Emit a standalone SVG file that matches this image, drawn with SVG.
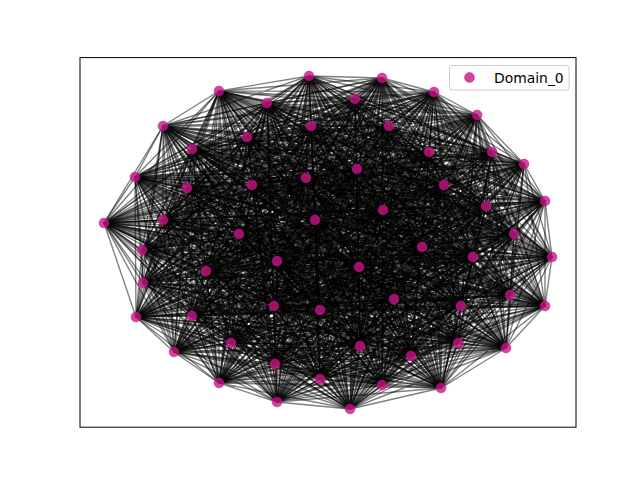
<svg xmlns="http://www.w3.org/2000/svg" width="640" height="480" viewBox="0 0 640 480">
<style>
.e path{fill:none;stroke:#000;stroke-opacity:.5;stroke-width:1.39;stroke-linejoin:round}
.n circle{fill:#c71585;fill-opacity:.8;stroke:#c71585;stroke-opacity:.8;stroke-width:.5}
.lt{font-family:"DejaVu Sans",sans-serif;font-size:13.9px;fill:#000}
</style>
<rect width="640" height="480" fill="#fff"/>
<g id="edges" class="e">
<path d="M309 76 382 78 350 409 219 91 277 402 267 103 441 388 355 99 382 385 434 92 320 379 477 115 219 383 163 126 275 364 247 137 506 348 311 126 458 343 389 126 411 356 192 149 360 346 429 152 231 343 492 152 174 352 524 164 192 316 135 177 545 306 187 188 461 306 252 185 394 299 306 178 320 310 357 169 274 306 444 185 136 317 545 201 510 295 104 223 143 283 163 220 473 257 315 220 359 267 383 210 277 261 486 206 206 271 514 234 552 257 142 250 422 247 239 234"/>
<path d="M382 78 219 91 309 76 267 103 350 409 355 99 277 402 434 92 441 388 477 115 382 385 163 126 320 379 247 137 219 383 311 126 275 364 389 126 506 348 192 149 458 343 429 152 411 356 492 152 360 346 524 164 231 343 135 177 174 352 187 188 192 316 252 185 545 306 306 178 461 306 357 169 394 299 444 185 320 310 545 201 274 306 104 223 136 317 163 220 510 295 315 220 143 283 383 210 473 257 486 206 359 267 514 234 277 261 142 250 206 271 239 234 552 257 422 247"/>
<path d="M219 91 267 103 382 78 355 99 309 76 434 92 350 409 477 115 277 402 163 126 441 388 247 137 382 385 311 126 320 379 389 126 219 383 192 149 275 364 429 152 506 348 492 152 458 343 524 164 411 356 135 177 360 346 187 188 231 343 252 185 174 352 306 178 192 316 357 169 545 306 444 185 461 306 545 201 394 299 104 223 320 310 163 220 274 306 315 220 136 317 383 210 510 295 486 206 143 283 514 234 473 257 142 250 359 267 239 234 277 261 422 247 206 271 552 257"/>
<path d="M267 103 355 99 219 91 434 92 382 78 477 115 309 76 163 126 350 409 247 137 277 402 311 126 441 388 389 126 382 385 192 149 320 379 429 152 219 383 492 152 275 364 524 164 506 348 135 177 458 343 187 188 411 356 252 185 360 346 306 178 231 343 357 169 174 352 444 185 192 316 545 201 545 306 104 223 461 306 163 220 394 299 315 220 320 310 383 210 274 306 486 206 136 317 514 234 510 295 142 250 143 283 239 234 473 257 422 247 359 267 552 257 277 261 206 271"/>
<path d="M355 99 434 92 267 103 477 115 219 91 163 126 382 78 247 137 309 76 311 126 350 409 389 126 277 402 192 149 441 388 429 152 382 385 492 152 320 379 524 164 219 383 135 177 275 364 187 188 506 348 252 185 458 343 306 178 411 356 357 169 360 346 444 185 231 343 545 201 174 352 104 223 192 316 163 220 545 306 315 220 461 306 383 210 394 299 486 206 320 310 514 234 274 306 142 250 136 317 239 234 510 295 422 247 143 283 552 257 473 257 206 271 359 267 277 261"/>
<path d="M434 92 477 115 355 99 163 126 267 103 247 137 219 91 311 126 382 78 389 126 309 76 192 149 350 409 429 152 277 402 492 152 441 388 524 164 382 385 135 177 320 379 187 188 219 383 252 185 275 364 306 178 506 348 357 169 458 343 444 185 411 356 545 201 360 346 104 223 231 343 163 220 174 352 315 220 192 316 383 210 545 306 486 206 461 306 514 234 394 299 142 250 320 310 239 234 274 306 422 247 136 317 552 257 510 295 206 271 143 283 277 261 473 257 359 267"/>
<path d="M477 115 163 126 434 92 247 137 355 99 311 126 267 103 389 126 219 91 192 149 382 78 429 152 309 76 492 152 350 409 524 164 277 402 135 177 441 388 187 188 382 385 252 185 320 379 306 178 219 383 357 169 275 364 444 185 506 348 545 201 458 343 104 223 411 356 163 220 360 346 315 220 231 343 383 210 174 352 486 206 192 316 514 234 545 306 142 250 461 306 239 234 394 299 422 247 320 310 552 257 274 306 206 271 136 317 277 261 510 295 359 267 143 283 473 257"/>
<path d="M163 126 247 137 477 115 311 126 434 92 389 126 355 99 192 149 267 103 429 152 219 91 492 152 382 78 524 164 309 76 135 177 350 409 187 188 277 402 252 185 441 388 306 178 382 385 357 169 320 379 444 185 219 383 545 201 275 364 104 223 506 348 163 220 458 343 315 220 411 356 383 210 360 346 486 206 231 343 514 234 174 352 142 250 192 316 239 234 545 306 422 247 461 306 552 257 394 299 206 271 320 310 277 261 274 306 359 267 136 317 473 257 510 295 143 283"/>
<path d="M247 137 311 126 163 126 389 126 477 115 192 149 434 92 429 152 355 99 492 152 267 103 524 164 219 91 135 177 382 78 187 188 309 76 252 185 350 409 306 178 277 402 357 169 441 388 444 185 382 385 545 201 320 379 104 223 219 383 163 220 275 364 315 220 506 348 383 210 458 343 486 206 411 356 514 234 360 346 142 250 231 343 239 234 174 352 422 247 192 316 552 257 545 306 206 271 461 306 277 261 394 299 359 267 320 310 473 257 274 306 143 283 136 317 510 295"/>
<path d="M311 126 389 126 247 137 192 149 163 126 429 152 477 115 492 152 434 92 524 164 355 99 135 177 267 103 187 188 219 91 252 185 382 78 306 178 309 76 357 169 350 409 444 185 277 402 545 201 441 388 104 223 382 385 163 220 320 379 315 220 219 383 383 210 275 364 486 206 506 348 514 234 458 343 142 250 411 356 239 234 360 346 422 247 231 343 552 257 174 352 206 271 192 316 277 261 545 306 359 267 461 306 473 257 394 299 143 283 320 310 510 295 274 306 136 317"/>
<path d="M389 126 192 149 311 126 429 152 247 137 492 152 163 126 524 164 477 115 135 177 434 92 187 188 355 99 252 185 267 103 306 178 219 91 357 169 382 78 444 185 309 76 545 201 350 409 104 223 277 402 163 220 441 388 315 220 382 385 383 210 320 379 486 206 219 383 514 234 275 364 142 250 506 348 239 234 458 343 422 247 411 356 552 257 360 346 206 271 231 343 277 261 174 352 359 267 192 316 473 257 545 306 143 283 461 306 510 295 394 299 136 317 320 310 274 306"/>
<path d="M192 149 429 152 389 126 492 152 311 126 524 164 247 137 135 177 163 126 187 188 477 115 252 185 434 92 306 178 355 99 357 169 267 103 444 185 219 91 545 201 382 78 104 223 309 76 163 220 350 409 315 220 277 402 383 210 441 388 486 206 382 385 514 234 320 379 142 250 219 383 239 234 275 364 422 247 506 348 552 257 458 343 206 271 411 356 277 261 360 346 359 267 231 343 473 257 174 352 143 283 192 316 510 295 545 306 136 317 461 306 274 306 394 299 320 310"/>
<path d="M429 152 492 152 192 149 524 164 389 126 135 177 311 126 187 188 247 137 252 185 163 126 306 178 477 115 357 169 434 92 444 185 355 99 545 201 267 103 104 223 219 91 163 220 382 78 315 220 309 76 383 210 350 409 486 206 277 402 514 234 441 388 142 250 382 385 239 234 320 379 422 247 219 383 552 257 275 364 206 271 506 348 277 261 458 343 359 267 411 356 473 257 360 346 143 283 231 343 510 295 174 352 136 317 192 316 274 306 545 306 320 310 461 306 394 299"/>
<path d="M492 152 524 164 429 152 135 177 192 149 187 188 389 126 252 185 311 126 306 178 247 137 357 169 163 126 444 185 477 115 545 201 434 92 104 223 355 99 163 220 267 103 315 220 219 91 383 210 382 78 486 206 309 76 514 234 350 409 142 250 277 402 239 234 441 388 422 247 382 385 552 257 320 379 206 271 219 383 277 261 275 364 359 267 506 348 473 257 458 343 143 283 411 356 510 295 360 346 136 317 231 343 274 306 174 352 320 310 192 316 394 299 545 306 461 306"/>
<path d="M524 164 135 177 492 152 187 188 429 152 252 185 192 149 306 178 389 126 357 169 311 126 444 185 247 137 545 201 163 126 104 223 477 115 163 220 434 92 315 220 355 99 383 210 267 103 486 206 219 91 514 234 382 78 142 250 309 76 239 234 350 409 422 247 277 402 552 257 441 388 206 271 382 385 277 261 320 379 359 267 219 383 473 257 275 364 143 283 506 348 510 295 458 343 136 317 411 356 274 306 360 346 320 310 231 343 394 299 174 352 461 306 192 316 545 306"/>
<path d="M135 177 187 188 524 164 252 185 492 152 306 178 429 152 357 169 192 149 444 185 389 126 545 201 311 126 104 223 247 137 163 220 163 126 315 220 477 115 383 210 434 92 486 206 355 99 514 234 267 103 142 250 219 91 239 234 382 78 422 247 309 76 552 257 350 409 206 271 277 402 277 261 441 388 359 267 382 385 473 257 320 379 143 283 219 383 510 295 275 364 136 317 506 348 274 306 458 343 320 310 411 356 394 299 360 346 461 306 231 343 545 306 174 352 192 316"/>
<path d="M187 188 252 185 135 177 306 178 524 164 357 169 492 152 444 185 429 152 545 201 192 149 104 223 389 126 163 220 311 126 315 220 247 137 383 210 163 126 486 206 477 115 514 234 434 92 142 250 355 99 239 234 267 103 422 247 219 91 552 257 382 78 206 271 309 76 277 261 350 409 359 267 277 402 473 257 441 388 143 283 382 385 510 295 320 379 136 317 219 383 274 306 275 364 320 310 506 348 394 299 458 343 461 306 411 356 545 306 360 346 192 316 231 343 174 352"/>
<path d="M252 185 306 178 187 188 357 169 135 177 444 185 524 164 545 201 492 152 104 223 429 152 163 220 192 149 315 220 389 126 383 210 311 126 486 206 247 137 514 234 163 126 142 250 477 115 239 234 434 92 422 247 355 99 552 257 267 103 206 271 219 91 277 261 382 78 359 267 309 76 473 257 350 409 143 283 277 402 510 295 441 388 136 317 382 385 274 306 320 379 320 310 219 383 394 299 275 364 461 306 506 348 545 306 458 343 192 316 411 356 174 352 360 346 231 343"/>
<path d="M306 178 357 169 252 185 444 185 187 188 545 201 135 177 104 223 524 164 163 220 492 152 315 220 429 152 383 210 192 149 486 206 389 126 514 234 311 126 142 250 247 137 239 234 163 126 422 247 477 115 552 257 434 92 206 271 355 99 277 261 267 103 359 267 219 91 473 257 382 78 143 283 309 76 510 295 350 409 136 317 277 402 274 306 441 388 320 310 382 385 394 299 320 379 461 306 219 383 545 306 275 364 192 316 506 348 174 352 458 343 231 343 411 356 360 346"/>
<path d="M357 169 444 185 306 178 545 201 252 185 104 223 187 188 163 220 135 177 315 220 524 164 383 210 492 152 486 206 429 152 514 234 192 149 142 250 389 126 239 234 311 126 422 247 247 137 552 257 163 126 206 271 477 115 277 261 434 92 359 267 355 99 473 257 267 103 143 283 219 91 510 295 382 78 136 317 309 76 274 306 350 409 320 310 277 402 394 299 441 388 461 306 382 385 545 306 320 379 192 316 219 383 174 352 275 364 231 343 506 348 360 346 458 343 411 356"/>
<path d="M444 185 545 201 357 169 104 223 306 178 163 220 252 185 315 220 187 188 383 210 135 177 486 206 524 164 514 234 492 152 142 250 429 152 239 234 192 149 422 247 389 126 552 257 311 126 206 271 247 137 277 261 163 126 359 267 477 115 473 257 434 92 143 283 355 99 510 295 267 103 136 317 219 91 274 306 382 78 320 310 309 76 394 299 350 409 461 306 277 402 545 306 441 388 192 316 382 385 174 352 320 379 231 343 219 383 360 346 275 364 411 356 506 348 458 343"/>
<path d="M545 201 104 223 444 185 163 220 357 169 315 220 306 178 383 210 252 185 486 206 187 188 514 234 135 177 142 250 524 164 239 234 492 152 422 247 429 152 552 257 192 149 206 271 389 126 277 261 311 126 359 267 247 137 473 257 163 126 143 283 477 115 510 295 434 92 136 317 355 99 274 306 267 103 320 310 219 91 394 299 382 78 461 306 309 76 545 306 350 409 192 316 277 402 174 352 441 388 231 343 382 385 360 346 320 379 411 356 219 383 458 343 275 364 506 348"/>
<path d="M104 223 163 220 545 201 315 220 444 185 383 210 357 169 486 206 306 178 514 234 252 185 142 250 187 188 239 234 135 177 422 247 524 164 552 257 492 152 206 271 429 152 277 261 192 149 359 267 389 126 473 257 311 126 143 283 247 137 510 295 163 126 136 317 477 115 274 306 434 92 320 310 355 99 394 299 267 103 461 306 219 91 545 306 382 78 192 316 309 76 174 352 350 409 231 343 277 402 360 346 441 388 411 356 382 385 458 343 320 379 506 348 219 383 275 364"/>
<path d="M163 220 315 220 104 223 383 210 545 201 486 206 444 185 514 234 357 169 142 250 306 178 239 234 252 185 422 247 187 188 552 257 135 177 206 271 524 164 277 261 492 152 359 267 429 152 473 257 192 149 143 283 389 126 510 295 311 126 136 317 247 137 274 306 163 126 320 310 477 115 394 299 434 92 461 306 355 99 545 306 267 103 192 316 219 91 174 352 382 78 231 343 309 76 360 346 350 409 411 356 277 402 458 343 441 388 506 348 382 385 275 364 320 379 219 383"/>
<path d="M315 220 383 210 163 220 486 206 104 223 514 234 545 201 142 250 444 185 239 234 357 169 422 247 306 178 552 257 252 185 206 271 187 188 277 261 135 177 359 267 524 164 473 257 492 152 143 283 429 152 510 295 192 149 136 317 389 126 274 306 311 126 320 310 247 137 394 299 163 126 461 306 477 115 545 306 434 92 192 316 355 99 174 352 267 103 231 343 219 91 360 346 382 78 411 356 309 76 458 343 350 409 506 348 277 402 275 364 441 388 219 383 382 385 320 379"/>
<path d="M383 210 486 206 315 220 514 234 163 220 142 250 104 223 239 234 545 201 422 247 444 185 552 257 357 169 206 271 306 178 277 261 252 185 359 267 187 188 473 257 135 177 143 283 524 164 510 295 492 152 136 317 429 152 274 306 192 149 320 310 389 126 394 299 311 126 461 306 247 137 545 306 163 126 192 316 477 115 174 352 434 92 231 343 355 99 360 346 267 103 411 356 219 91 458 343 382 78 506 348 309 76 275 364 350 409 219 383 277 402 320 379 441 388 382 385"/>
<path d="M486 206 514 234 383 210 142 250 315 220 239 234 163 220 422 247 104 223 552 257 545 201 206 271 444 185 277 261 357 169 359 267 306 178 473 257 252 185 143 283 187 188 510 295 135 177 136 317 524 164 274 306 492 152 320 310 429 152 394 299 192 149 461 306 389 126 545 306 311 126 192 316 247 137 174 352 163 126 231 343 477 115 360 346 434 92 411 356 355 99 458 343 267 103 506 348 219 91 275 364 382 78 219 383 309 76 320 379 350 409 382 385 277 402 441 388"/>
<path d="M514 234 142 250 486 206 239 234 383 210 422 247 315 220 552 257 163 220 206 271 104 223 277 261 545 201 359 267 444 185 473 257 357 169 143 283 306 178 510 295 252 185 136 317 187 188 274 306 135 177 320 310 524 164 394 299 492 152 461 306 429 152 545 306 192 149 192 316 389 126 174 352 311 126 231 343 247 137 360 346 163 126 411 356 477 115 458 343 434 92 506 348 355 99 275 364 267 103 219 383 219 91 320 379 382 78 382 385 309 76 441 388 350 409 277 402"/>
<path d="M142 250 239 234 514 234 422 247 486 206 552 257 383 210 206 271 315 220 277 261 163 220 359 267 104 223 473 257 545 201 143 283 444 185 510 295 357 169 136 317 306 178 274 306 252 185 320 310 187 188 394 299 135 177 461 306 524 164 545 306 492 152 192 316 429 152 174 352 192 149 231 343 389 126 360 346 311 126 411 356 247 137 458 343 163 126 506 348 477 115 275 364 434 92 219 383 355 99 320 379 267 103 382 385 219 91 441 388 382 78 277 402 309 76 350 409"/>
</g>
<g id="nodes" class="n">
<g id="n1"><circle cx="309" cy="76" r="5"/></g>
<g id="n2"><circle cx="382" cy="78" r="5"/></g>
<g id="n3"><circle cx="219" cy="91" r="5"/></g>
<g id="n4"><circle cx="267" cy="103" r="5"/></g>
<g id="n5"><circle cx="355" cy="99" r="5"/></g>
<g id="n6"><circle cx="434" cy="92" r="5"/></g>
<g id="n7"><circle cx="477" cy="115" r="5"/></g>
<g id="n8"><circle cx="163" cy="126" r="5"/></g>
<g id="n9"><circle cx="247" cy="137" r="5"/></g>
<g id="n10"><circle cx="311" cy="126" r="5"/></g>
<g id="n11"><circle cx="389" cy="126" r="5"/></g>
<g id="n12"><circle cx="192" cy="149" r="5"/></g>
<g id="n13"><circle cx="429" cy="152" r="5"/></g>
<g id="n14"><circle cx="492" cy="152" r="5"/></g>
<g id="n15"><circle cx="524" cy="164" r="5"/></g>
<g id="n16"><circle cx="135" cy="177" r="5"/></g>
<g id="n17"><circle cx="187" cy="188" r="5"/></g>
<g id="n18"><circle cx="252" cy="185" r="5"/></g>
<g id="n19"><circle cx="306" cy="178" r="5"/></g>
<g id="n20"><circle cx="357" cy="169" r="5"/></g>
<g id="n21"><circle cx="444" cy="185" r="5"/></g>
<g id="n22"><circle cx="545" cy="201" r="5"/></g>
<g id="n23"><circle cx="104" cy="223" r="5"/></g>
<g id="n24"><circle cx="163" cy="220" r="5"/></g>
<g id="n25"><circle cx="315" cy="220" r="5"/></g>
<g id="n26"><circle cx="383" cy="210" r="5"/></g>
<g id="n27"><circle cx="486" cy="206" r="5"/></g>
<g id="n28"><circle cx="514" cy="234" r="5"/></g>
<g id="n29"><circle cx="142" cy="250" r="5"/></g>
<g id="n30"><circle cx="239" cy="234" r="5"/></g>
<g id="n31"><circle cx="422" cy="247" r="5"/></g>
<g id="n32"><circle cx="552" cy="257" r="5"/></g>
<g id="n33"><circle cx="206" cy="271" r="5"/></g>
<g id="n34"><circle cx="277" cy="261" r="5"/></g>
<g id="n35"><circle cx="359" cy="267" r="5"/></g>
<g id="n36"><circle cx="473" cy="257" r="5"/></g>
<g id="n37"><circle cx="143" cy="283" r="5"/></g>
<g id="n38"><circle cx="510" cy="295" r="5"/></g>
<g id="n39"><circle cx="136" cy="317" r="5"/></g>
<g id="n40"><circle cx="274" cy="306" r="5"/></g>
<g id="n41"><circle cx="320" cy="310" r="5"/></g>
<g id="n42"><circle cx="394" cy="299" r="5"/></g>
<g id="n43"><circle cx="461" cy="306" r="5"/></g>
<g id="n44"><circle cx="545" cy="306" r="5"/></g>
<g id="n45"><circle cx="192" cy="316" r="5"/></g>
<g id="n46"><circle cx="174" cy="352" r="5"/></g>
<g id="n47"><circle cx="231" cy="343" r="5"/></g>
<g id="n48"><circle cx="360" cy="346" r="5"/></g>
<g id="n49"><circle cx="411" cy="356" r="5"/></g>
<g id="n50"><circle cx="458" cy="343" r="5"/></g>
<g id="n51"><circle cx="506" cy="348" r="5"/></g>
<g id="n52"><circle cx="275" cy="364" r="5"/></g>
<g id="n53"><circle cx="219" cy="383" r="5"/></g>
<g id="n54"><circle cx="320" cy="379" r="5"/></g>
<g id="n55"><circle cx="382" cy="385" r="5"/></g>
<g id="n56"><circle cx="441" cy="388" r="5"/></g>
<g id="n57"><circle cx="277" cy="402" r="5"/></g>
<g id="n58"><circle cx="350" cy="409" r="5"/></g>
</g>
<rect x="80" y="57.6" width="496" height="369.6" fill="none" stroke="#000" stroke-width="1"/>
<g id="legend">
<rect x="449.5" y="65.5" width="119.5" height="24.5" rx="2.5" fill="#fff" fill-opacity=".8" stroke="#ccc" stroke-width="1"/>
<g class="n"><circle cx="469.5" cy="77.5" r="5"/></g>
<text class="lt" x="494" y="82.5">Domain_0</text>
</g>
</svg>
